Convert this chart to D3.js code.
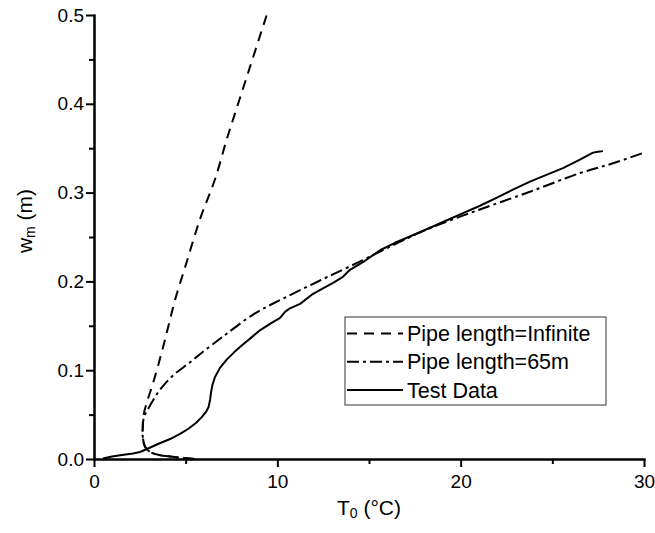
<!DOCTYPE html>
<html lang="en">
<head>
    <meta charset="UTF-8">
    <script src="https://d3js.org/d3.v7.min.js"></script>
    <style>
        body, html {
            margin: 0;
            background: #fff;
            overflow: hidden;
            font-family: "Liberation Sans", Arial, sans-serif;
        }
        .axis path, .axis line {
            stroke: #000;
            stroke-width: 2px;
        }
        .axis text {
            font-family: "Liberation Sans", Arial, sans-serif;
            font-size: 19px;
            fill: #000;
        }
        .curve {
            fill: none;
            stroke: #000;
            stroke-width: 2px;
        }
    </style>
</head>
<body>
    <div id="chart"></div>

    <script>
        // [T0 (°C), wm (m)]
        const pipeInfinite = [
            [5.5, 0.0], [4.05, 0.003], [3.45, 0.005], [3.05, 0.008], [2.78, 0.014], [2.66, 0.025],
            [2.66, 0.036], [2.69, 0.048], [2.87, 0.063], [3.23, 0.086], [3.69, 0.120],
            [4.05, 0.149], [4.42, 0.179], [5.0, 0.218], [5.78, 0.270], [6.60, 0.315],
            [7.24, 0.360], [7.58, 0.382], [8.5, 0.441], [9.42, 0.500]
        ];
        const pipe65m = [
            [5.5, 0.0], [4.05, 0.003], [3.45, 0.005], [3.05, 0.008], [2.78, 0.014], [2.66, 0.025],
            [2.66, 0.036], [2.70, 0.045], [2.78, 0.050], [3.05, 0.060], [3.60, 0.078],
            [4.31, 0.094], [5.24, 0.109], [5.9, 0.120], [7.04, 0.138], [8.78, 0.164],
            [10.25, 0.180], [12.33, 0.201], [14.67, 0.224], [16.53, 0.243], [18.33, 0.260],
            [21.05, 0.281], [23.78, 0.301], [26.51, 0.322], [28.31, 0.333], [30.0, 0.345]
        ];
        const testData = [
            [0.49, 0.0006], [0.98, 0.0028], [1.53, 0.0045], [2.13, 0.0062], [2.51, 0.0079],
            [2.89, 0.0113], [3.49, 0.0169], [4.15, 0.0225], [4.69, 0.0282], [5.13, 0.0338],
            [5.56, 0.0406], [5.89, 0.0474], [6.11, 0.0530], [6.25, 0.0586], [6.33, 0.0665],
            [6.38, 0.0744], [6.46, 0.0834], [6.60, 0.0924], [6.87, 0.1026], [7.25, 0.1122],
            [7.64, 0.1201], [8.07, 0.1280], [8.56, 0.1364], [9.05, 0.1449], [9.60, 0.1522],
            [10.15, 0.1590], [10.42, 0.1657], [10.69, 0.1697], [11.24, 0.1747], [11.95, 0.1860],
            [12.44, 0.1917], [13.04, 0.1984], [13.58, 0.2052], [13.96, 0.2131], [14.78, 0.2232],
            [15.60, 0.2351], [16.42, 0.2435], [17.07, 0.2492], [18.33, 0.2604], [19.25, 0.2689],
            [20.13, 0.2768], [21.05, 0.2852], [21.98, 0.2943], [22.85, 0.3033], [23.78, 0.3123],
            [24.71, 0.3202], [25.58, 0.3275], [26.40, 0.3360], [27.22, 0.3450], [27.49, 0.3461],
            [27.76, 0.3467]
        ];

        const xTicks = [0, 10, 20, 30];
        const xMinor = [5, 15, 25];
        const yTicks = [0, 0.1, 0.2, 0.3, 0.4, 0.5];
        const yMinor = [0.05, 0.15, 0.25, 0.35, 0.45];

        const legendItems = [
            {label: "Pipe length=Infinite", dash: "10,7"},
            {label: "Pipe length=65m", dash: "12,4,3,4"},
            {label: "Test Data", dash: null}
        ];

        const W = 655, H = 533;
        const margin = {top: 15, right: 11, bottom: 74, left: 94},
            width = W - margin.left - margin.right,
            height = H - margin.top - margin.bottom;

        const root = d3.select("#chart")
            .append("svg")
            .attr("width", W)
            .attr("height", H);

        const svg = root.append("g")
            .attr("transform", `translate(${margin.left},${margin.top})`);

        const x = d3.scaleLinear().domain([0, 30]).range([0, width]);
        const y = d3.scaleLinear().domain([0, 0.5]).range([height, 0]);

        // minor ticks first, then major axes on top
        svg.append("g")
            .attr("class", "axis")
            .attr("transform", `translate(0,${height})`)
            .call(d3.axisBottom(x).tickValues(xMinor).tickSize(5).tickSizeOuter(0).tickFormat(""));
        svg.append("g")
            .attr("class", "axis")
            .call(d3.axisLeft(y).tickValues(yMinor).tickSize(5).tickSizeOuter(0).tickFormat(""));

        svg.append("g")
            .attr("class", "axis")
            .attr("transform", `translate(0,${height})`)
            .call(d3.axisBottom(x).tickValues(xTicks).tickSize(8).tickPadding(8).tickSizeOuter(0));
        svg.append("g")
            .attr("class", "axis")
            .call(d3.axisLeft(y).tickValues(yTicks).tickSize(8).tickPadding(2).tickSizeOuter(0)
                .tickFormat(d3.format(".1f")));

        svg.selectAll(".axis path").attr("stroke-linecap", "square");

        const smooth = d3.line()
            .curve(d3.curveCatmullRom.alpha(0.5))
            .x(d => x(d[0]))
            .y(d => y(d[1]));
        const line = d3.line()
            .x(d => x(d[0]))
            .y(d => y(d[1]));

        svg.append("path").datum(pipeInfinite)
            .attr("class", "curve")
            .attr("stroke-dasharray", legendItems[0].dash)
            .attr("d", smooth);
        svg.append("path").datum(pipe65m)
            .attr("class", "curve")
            .attr("stroke-dasharray", legendItems[1].dash)
            .attr("d", smooth);
        svg.append("path").datum(testData)
            .attr("class", "curve")
            .attr("stroke-linejoin", "round")
            .attr("d", line);

        // legend
        const legend = root.append("g").attr("transform", "translate(345,317)");
        legend.append("rect")
            .attr("width", 261)
            .attr("height", 88)
            .attr("fill", "#fff")
            .attr("stroke", "#333")
            .attr("stroke-width", 1);

        const rows = legend.selectAll(".row")
            .data(legendItems)
            .enter()
            .append("g")
            .attr("transform", (d, i) => `translate(0,${24 + i * 28.3})`);

        rows.append("line")
            .attr("x1", 2).attr("x2", 58)
            .attr("y1", -7.5).attr("y2", -7.5)
            .attr("stroke", "#000")
            .attr("stroke-width", 2)
            .attr("stroke-dasharray", d => d.dash);

        rows.append("text")
            .attr("x", 62)
            .attr("y", 0)
            .style("font-size", "21.5px")
            .text(d => d.label);

        // axis titles
        const xt = root.append("text")
            .attr("x", margin.left + width / 2)
            .attr("y", 515)
            .attr("text-anchor", "middle")
            .style("font-size", "21px");
        xt.append("tspan").text("T");
        xt.append("tspan").attr("dy", 3).style("font-size", "14px").text("0");
        xt.append("tspan").attr("dy", -3).text(" (°C)");

        const yt = root.append("text")
            .attr("transform", "translate(32,221) rotate(-90)")
            .attr("text-anchor", "middle")
            .style("font-size", "21px");
        yt.append("tspan").text("w");
        yt.append("tspan").attr("dy", 3).style("font-size", "14px").text("m");
        yt.append("tspan").attr("dy", -3).text(" (m)");
    </script>
</body>
</html>
